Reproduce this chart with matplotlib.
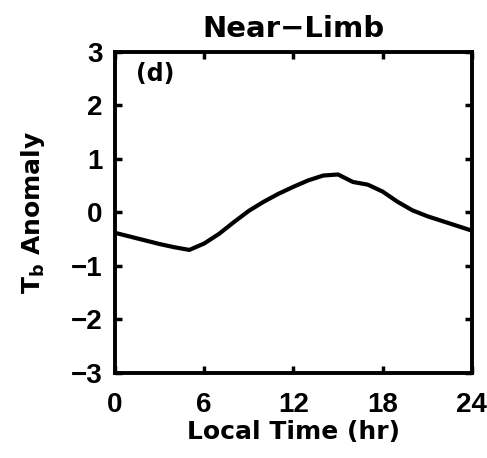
import matplotlib
matplotlib.use("Agg")
import matplotlib.pyplot as plt

# Diurnal brightness-temperature anomaly, near-limb view
local_time = [0, 1, 2, 3, 4, 5, 6, 7, 8, 9, 10, 11, 12,
              13, 14, 15, 16, 17, 18, 19, 20, 21, 22, 23, 24]
tb_anomaly = [-0.38, -0.45, -0.52, -0.59, -0.65, -0.70, -0.58, -0.40, -0.18,
              0.03, 0.20, 0.35, 0.48, 0.60, 0.69, 0.71, 0.57, 0.52, 0.39,
              0.20, 0.04, -0.07, -0.16, -0.25, -0.34]

x_ticks = [0, 6, 12, 18, 24]
y_ticks = [-3, -2, -1, 0, 1, 2, 3]
y_tick_labels = ["\u22123", "\u22122", "\u22121", "0", "1", "2", "3"]

plt.rcParams["font.family"] = ["DejaVu Sans"]
plt.rcParams["font.weight"] = "bold"

fig = plt.figure(figsize=(4.87, 4.58), dpi=100)
ax = fig.add_axes([0.236, 0.1856, 0.733, 0.701])

ax.plot(local_time, tb_anomaly, color="black", linewidth=3.0)

ax.set_xlim(0, 24)
ax.set_ylim(-3, 3)
ax.set_xticks(x_ticks)
ax.set_yticks(y_ticks)
ax.set_yticklabels(y_tick_labels)

for side in ax.spines.values():
    side.set_linewidth(2.8)

ax.tick_params(axis="both", direction="in", length=5, width=2.5,
               top=True, right=True, labelsize=20)
ax.tick_params(axis="x", pad=14)
ax.tick_params(axis="y", pad=9)
for lbl in ax.get_xticklabels() + ax.get_yticklabels():
    lbl.set_fontweight("bold")
    lbl.set_family(["Liberation Sans", "DejaVu Sans"])

ax.set_title("Near\u2212Limb", fontsize=21, fontweight="bold", pad=11)
ax.set_xlabel("Local Time (hr)", fontsize=18, fontweight="bold", labelpad=1)
ax.set_ylabel(r"$\mathbf{T_b}$ Anomaly", fontsize=18, fontweight="bold", labelpad=17)

ax.text(0.06, 0.93, "(d)", transform=ax.transAxes, fontsize=17,
        fontweight="bold", va="center", ha="left")

fig.savefig("out.png", dpi=100)
